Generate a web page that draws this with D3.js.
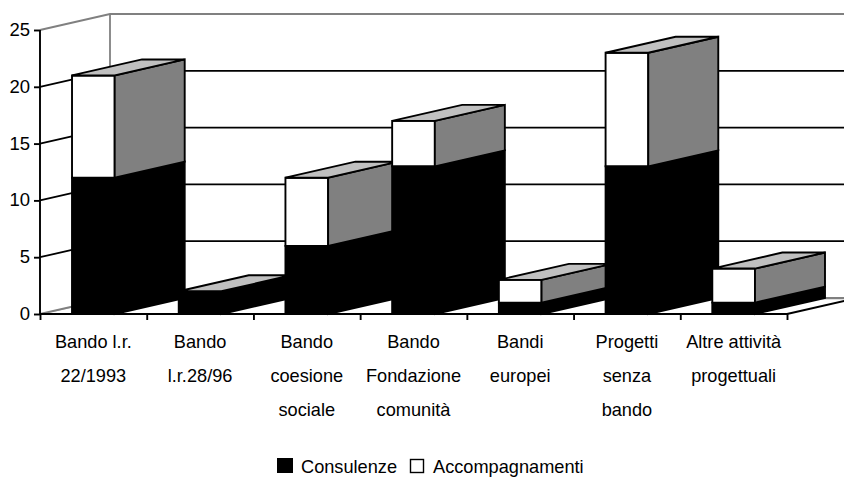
<!DOCTYPE html>
<html><head><meta charset="utf-8">
<script src="https://cdn.jsdelivr.net/npm/d3@7"></script>
<style>html,body{margin:0;background:#fff;overflow:hidden}svg{display:block}text{font-family:"Liberation Sans",Arial,sans-serif;fill:#000}</style>
</head><body><svg id="c" width="844" height="477"></svg>
<script>
const categories=[["Bando l.r.","22/1993"],["Bando","l.r.28/96"],["Bando","coesione","sociale"],["Bando","Fondazione","comunità"],["Bandi","europei"],["Progetti","senza","bando"],["Altre attività","progettuali"]];
const consulenze=[12,2,6,13,1,13,1];
const accompagnamenti=[9,0,6,4,2,10,3];
const yTicks=[0,5,10,15,20,25];
const seriesNames=["Consulenze","Accompagnamenti"];

const svg=d3.select("#c");
const DX=70,DY=-16,X0=40,X1=787,Y0=314,Y1=30;
const x=d3.scaleBand().domain(d3.range(categories.length)).range([X0,X1]).paddingInner(0.6).paddingOuter(0.3);
const cat=d3.scaleLinear().domain([0,categories.length]).range([X0,X1]);
const y=d3.scaleLinear().domain([0,25]).range([Y0,Y1]);
const line=(pts,stroke,w)=>svg.append("path").attr("d","M"+pts.map(p=>p.join(",")).join("L")).attr("fill","none").attr("stroke",stroke).attr("stroke-width",w);
const poly=(pts,fill)=>svg.append("polygon").attr("points",pts.map(p=>p.join(",")).join(" ")).attr("fill",fill).attr("stroke","#000").attr("stroke-width",1.9).attr("stroke-linejoin","miter");

// walls
line([[X0,y(25)],[X0+DX,y(25)+DY],[844,y(25)+DY]],"#808080",1.8);
line([[X0+DX,y(25)+DY],[X0+DX,y(0)+DY]],"#808080",1.8);
// floor
svg.append("polygon").attr("points",[[X0,Y0],[X0+DX,Y0+DY],[X1+DX,Y0+DY],[X1,Y0]].map(p=>p.join(",")).join(" ")).attr("fill","#c0c0c0");
svg.append("polygon").attr("points",[[X0+3,Y0],[X0+DX,Y0+DY+1.5],[X1+DX,Y0+DY+1.5],[X1,Y0]].map(p=>p.join(",")).join(" ")).attr("fill","#fff");
line([[X0,Y0],[X0+DX,Y0+DY],[844,Y0+DY]],"#808080",1.8);
// gridlines
yTicks.filter(t=>t>0&&t<25).forEach(t=>{
  line([[X0,y(t)],[X0+DX,y(t)+DY],[844,y(t)+DY]],"#000",1.8);
});
line([[X1,Y0],[X1+DX,Y0+DY]],"#000",1.8);

// bars
categories.forEach((c,i)=>{
  const l=x(i),r=l+x.bandwidth();
  const a=y(0),b=y(consulenze[i]),t=y(consulenze[i]+accompagnamenti[i]);
  const dx=DX;
  poly([[l,b],[r,b],[r,a],[l,a]],"#000");
  poly([[r,b],[r+dx,b+DY],[r+dx,a+DY],[r,a]],"#000");
  if(accompagnamenti[i]>0){
    poly([[l,t],[r,t],[r,b],[l,b]],"#fff");
    poly([[r,t],[r+dx,t+DY],[r+dx,b+DY],[r,b]],"#808080");
  }
  poly([[l,t],[l+dx,t+DY],[r+dx,t+DY],[r,t]],"#c0c0c0");
});

// axes
const yAxis=d3.axisLeft(y).tickValues(yTicks).tickSize(6).tickPadding(4).tickFormat(d3.format("d"));
const yg=svg.append("g").attr("transform",`translate(${X0},0)`).call(yAxis);
yg.select(".domain").attr("stroke-width",1.9).attr("d",`M0,${y(25)}V${Y0}`);
yg.selectAll(".tick line").attr("stroke-width",1.9);
yg.selectAll("text").attr("font-size",18.5).attr("font-family","Liberation Sans").attr("dy","0.3em");

const xAxis=d3.axisBottom(cat).tickValues(d3.range(categories.length+1)).tickSize(6).tickFormat("");
const xg=svg.append("g").attr("transform",`translate(0,${Y0})`).call(xAxis);
xg.select(".domain").attr("stroke-width",1.9).attr("d",`M${X0},0H${X1}`);
xg.selectAll(".tick line").attr("stroke-width",1.9);

// category labels
categories.forEach((c,i)=>{
  c.forEach((s,j)=>{
    svg.append("text").attr("x",cat(i+0.5)).attr("y",348+34*j).attr("text-anchor","middle").attr("font-size",18.2).text(s);
  });
});

// legend
svg.append("rect").attr("x",277.5).attr("y",458.5).attr("width",15).attr("height",14).attr("fill","#000").attr("stroke","#000");
svg.append("text").attr("x",301).attr("y",472.5).attr("font-size",18.2).text(seriesNames[0]);
svg.append("rect").attr("x",410.5).attr("y",459.5).attr("width",13).attr("height",13).attr("fill","#fff").attr("stroke","#000").attr("stroke-width",1.4);
svg.append("text").attr("x",433).attr("y",472.5).attr("font-size",18.2).text(seriesNames[1]);
</script></body></html>
